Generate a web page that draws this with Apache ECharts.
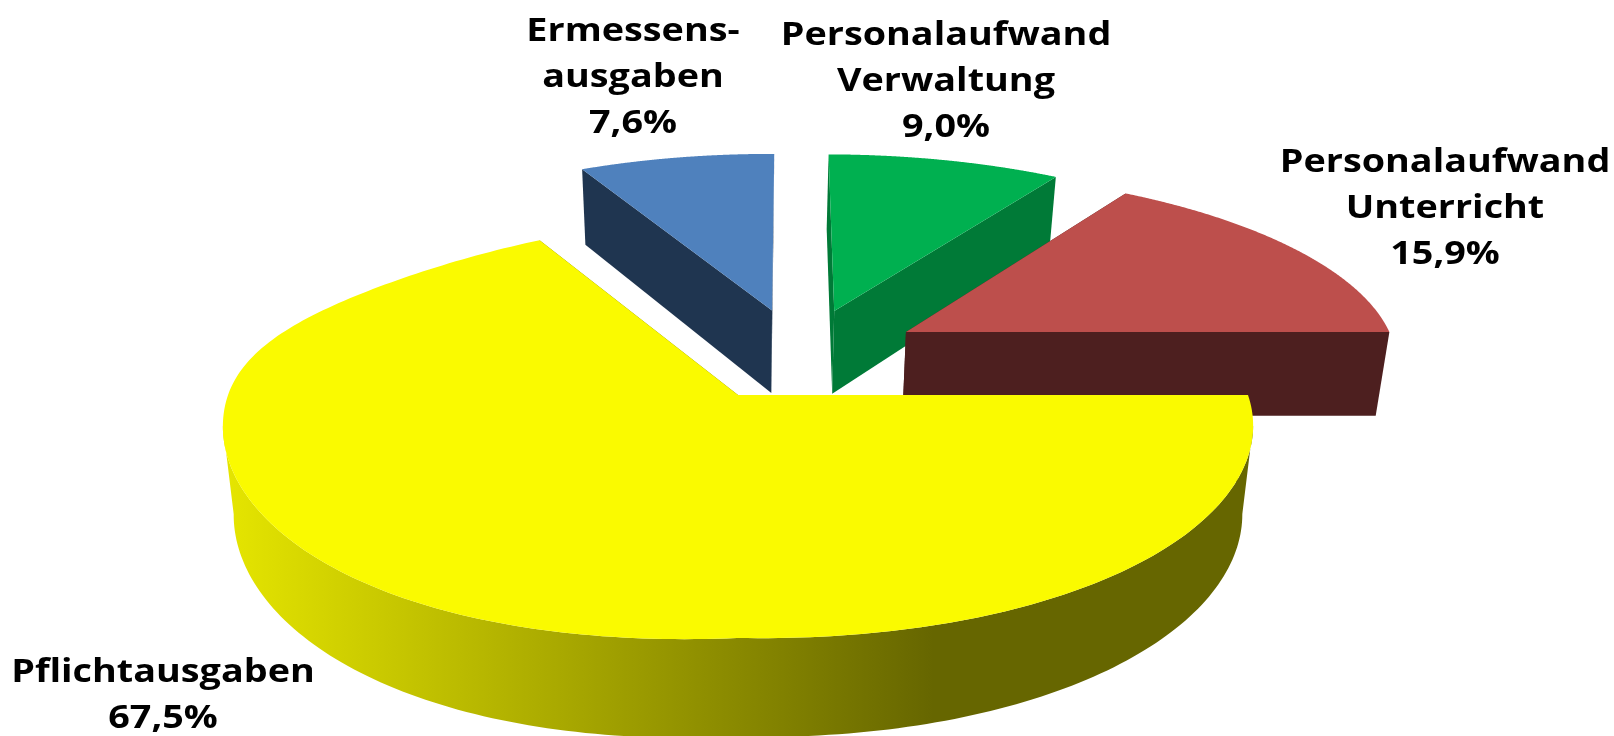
<!DOCTYPE html>
<html lang="de">
<head>
<meta charset="utf-8">
<title>Ausgabenstruktur</title>
<script src="https://cdn.jsdelivr.net/npm/echarts@6/dist/echarts.min.js"></script>
<style>
html,body{margin:0;padding:0;background:#fff;overflow:hidden}
#chart{width:1614px;height:736px}
</style>
</head>
<body>
<div id="chart"></div>
<script>
// ---- data ----
const categories = ['Pflichtausgaben', 'Ermessens-\nausgaben', 'Personalaufwand\nVerwaltung', 'Personalaufwand\nUnterricht'];
const shares = [67.5, 7.6, 9.0, 15.9];

// ---- styles ----
const topColors = ['#fafa00', '#4f81bd', '#00b050', '#bd4f4c'];
const sideColors = ['#666600', '#1f3550', '#007a37', '#4d1f1f'];

// ---- layout: exploded slice offsets in the pie plane, radius factors, label anchors, paint order ----
const explodeX = [0, 0.0708, 0.2, 0.344];
const explodeY = [0, -0.43, -0.4267, -0.3153];
const radiusX = [1, 0.968, 0.97, 0.99];
const radiusY = [1, 0.95, 0.95, 0.955];
const rimShiftX = [0, 0.008, 0.006, 0];
const backTuck = [0.05, 0, 0, 0];
const warp = [1, 0, 0, 0];
const labelX = [163, 633, 946, 1445];
const labelY = [696, 78, 82, 209];
const paintOrder = [40, 10, 20, 30];
const view = {cx: 738, cy: 395, rx: 510, ry: 208.7, p: 0.141, depth: 87, pd: 0.12, shrink: 0.021, skewL: 13, skewR: 5.5, skewB: 50};

function project(X, Y, Z, warpAmount) {
  const w = 1 - view.p * Y;
  let skew = 0;
  if (Y > 0) skew = 2 * Math.abs(X) * Math.pow(Y, 1.5) * (X < 0 ? view.skewL : view.skewR);
  else if (X < 0) skew = view.skewB * Math.pow(Math.abs(X), 2.5) * Y * Y;
  return [
    view.cx + (1 - view.shrink * Z) * view.rx * X / w,
    view.cy + view.ry * Y / w + Z * view.depth / (1 - view.pd * Y) + skew * warpAmount
  ];
}

const total = shares.reduce((a, b) => a + b, 0);

function outerWall(top, bottom) {
  const xs = pts => pts.map(p => p[0]);
  const ends = pts => {
    const x = xs(pts);
    const a = x.indexOf(Math.max.apply(null, x)), b = x.indexOf(Math.min.apply(null, x));
    return [Math.min(a, b), Math.max(a, b)];
  };
  const [t0, t1] = ends(top), [b0, b1] = ends(bottom);
  return top.slice(t0, t1 + 1).concat(bottom.slice(b0, b1 + 1).reverse());
}

function renderSlice(params, api) {
  const i = params.dataIndex;
  const value = api.value(0);
  const before = shares.slice(0, i).reduce((a, b) => a + b, 0);
  const a0 = before / total * Math.PI * 2;
  const a1 = a0 + value / total * Math.PI * 2;
  const ox = explodeX[i], oy = explodeY[i];
  const N = 240;
  const rim = Z => {
    const pts = [];
    for (let k = 0; k <= N; k++) {
      const a = a0 + (a1 - a0) * k / N;
      const s = Math.sin(a);
      const tuck = 1 - backTuck[i] * (s < 0 ? s * s : 0);
      pts.push(project(ox + rimShiftX[i] + radiusX[i] * tuck * Math.cos(a), oy + radiusY[i] * tuck * s, Z, warp[i]));
    }
    return pts;
  };
  const top = rim(0), bottom = rim(1);
  const apexT = project(ox, oy, 0, warp[i]), apexB = project(ox, oy, 1, warp[i]);
  const base = paintOrder[i];
  const children = [
    {type: 'polygon', z2: base + 1, shape: {points: [apexT, top[0], bottom[0], apexB]}, style: {fill: sideColors[i]}},
    {type: 'polygon', z2: base + 1, shape: {points: [apexT, top[N], bottom[N], apexB]}, style: {fill: sideColors[i]}},
    {type: 'polygon', z2: base + 2, shape: {points: [apexT].concat(top)}, style: {fill: topColors[i]}},
    {
      type: 'text', z2: 100, x: labelX[i], y: labelY[i], scaleX: 1.18,
      style: {
        text: categories[i] + '\n' + value.toFixed(1).replace('.', ',') + '%',
        fill: '#000',
        font: 'bold 32px "Open Sans", sans-serif',
        lineHeight: 46,
        align: 'center',
        verticalAlign: 'middle'
      }
    }
  ];
  if (i === 0) {
    children.unshift({
      type: 'polygon', z2: base, shape: {points: outerWall(top, bottom)},
      style: {fill: {
        type: 'linear', x: 222, y: 0, x2: 1253, y2: 0, global: true,
        colorStops: [
          {offset: 0, color: '#e6e600'},
          {offset: 0.44, color: '#949400'},
          {offset: 0.69, color: '#666600'},
          {offset: 1, color: '#666600'}
        ]
      }}
    });
  }
  return {type: 'group', children};
}

const chart = echarts.init(document.getElementById('chart'), null, {renderer: 'canvas', width: 1614, height: 736});
chart.setOption({
  animation: false,
  backgroundColor: '#ffffff',
  tooltip: {show: false},
  series: [{
    type: 'custom',
    coordinateSystem: 'none',
    silent: true,
    clip: false,
    renderItem: renderSlice,
    data: shares.map(v => [v])
  }]
});
</script>
</body>
</html>
